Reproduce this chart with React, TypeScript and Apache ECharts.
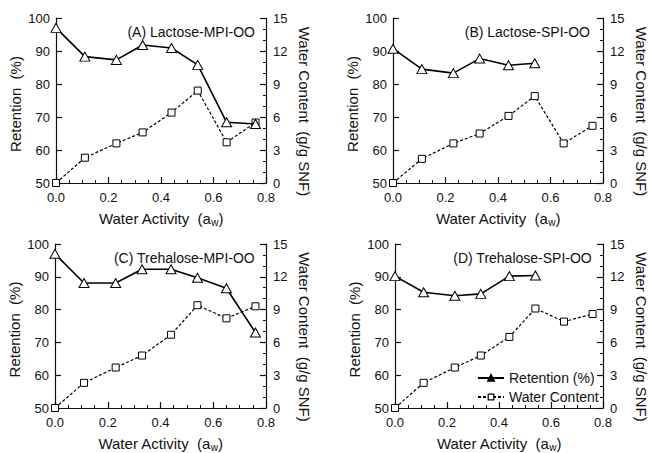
import React, { useEffect, useRef } from "react";
import * as echarts from "echarts";

const aw = [0, 0.11, 0.23, 0.33, 0.44, 0.54, 0.65, 0.76];

const retentionA = [97, 88.3, 87.3, 91.8, 90.9, 85.8, 68.4, 67.9];
const waterA = [0, 2.3, 3.6, 4.6, 6.4, 8.4, 3.7, 5.5];

const retentionB = [90.7, 84.5, 83.3, 87.7, 85.7, 86.3];
const waterB = [0, 2.2, 3.6, 4.5, 6.1, 7.9, 3.6, 5.2];

const retentionC = [97, 88.1, 88.1, 92.3, 92.3, 89.7, 86.5, 73];
const waterC = [0, 2.3, 3.7, 4.8, 6.7, 9.4, 8.2, 9.3];

const retentionD = [90.2, 85.3, 84.2, 84.8, 90.2, 90.4];
const waterD = [0, 2.3, 3.7, 4.8, 6.5, 9.1, 7.9, 8.6];

const panelTitles = [
  "(A) Lactose-MPI-OO",
  "(B) Lactose-SPI-OO",
  "(C) Trehalose-MPI-OO",
  "(D) Trehalose-SPI-OO",
];

const legendNames = ["Retention (%)", "Water Content"];

const retentionSets = [retentionA, retentionB, retentionC, retentionD];
const waterSets = [waterA, waterB, waterC, waterD];

const grids = [
  { left: 56, top: 18, width: 210, height: 165 },
  { left: 393, top: 18, width: 211, height: 165 },
  { left: 55, top: 244, width: 211, height: 165 },
  { left: 395, top: 244, width: 211, height: 165 },
];

const titlePos = [
  { right: 395, top: 25 },
  { right: 60, top: 25 },
  { right: 395, top: 251 },
  { right: 58, top: 251 },
];

const FONT = "'Liberation Sans', Arial, Helvetica, sans-serif";
const INK = "#111";

export default function App() {
  const ref = useRef<HTMLDivElement>(null);

  useEffect(() => {
    if (!ref.current) return;
    const chart = echarts.init(ref.current, undefined, { renderer: "svg" });

    const axisLine = { lineStyle: { color: INK, width: 1.2 } };
    const xAxes: any[] = [];
    const yAxes: any[] = [];
    const series: any[] = [];

    grids.forEach((_, i) => {
      xAxes.push({
        type: "value",
        gridIndex: i,
        min: 0,
        max: 0.8,
        interval: 0.2,
        name: "Water Activity  (a{sub|w})",
        nameLocation: "middle",
        nameGap: 26,
        nameTextStyle: {
          fontFamily: FONT,
          fontSize: 15,
          color: INK,
          rich: {
            sub: { fontFamily: FONT, fontSize: 10, color: INK, verticalAlign: "bottom", padding: [8, 0, 0, 0] },
          },
        },
        axisLine: { show: true, ...axisLine },
        axisTick: { show: true, inside: true, length: 6, lineStyle: { color: INK, width: 1.2 } },
        minorTick: { show: true, splitNumber: 4, length: 3, lineStyle: { color: INK, width: 1 } },
        splitLine: { show: false },
        axisLabel: {
          fontFamily: FONT,
          fontSize: 13,
          color: INK,
          margin: 8,
          formatter: (v: number) => v.toFixed(1),
        },
      });
      yAxes.push({
        type: "value",
        gridIndex: i,
        position: "left",
        min: 50,
        max: 100,
        interval: 10,
        name: "Retention  (%)",
        nameLocation: "middle",
        nameGap: 33,
        nameTextStyle: { fontFamily: FONT, fontSize: 15, color: INK, padding: [0, 7, 0, 0] },
        axisLine: { show: true, ...axisLine },
        axisTick: { show: true, inside: true, length: 6, lineStyle: { color: INK, width: 1.2 } },
        splitLine: { show: false },
        axisLabel: { fontFamily: FONT, fontSize: 13, color: INK, margin: 6 },
      });
      yAxes.push({
        type: "value",
        gridIndex: i,
        position: "right",
        min: 0,
        max: 15,
        interval: 3,
        name: "Water Content  (g/g SNF)",
        nameLocation: "middle",
        nameRotate: -90,
        nameGap: 31,
        nameTextStyle: { fontFamily: FONT, fontSize: 15, color: INK, padding: [0, 0, 0, 22] },
        axisLine: { show: true, ...axisLine },
        axisTick: { show: true, inside: true, length: 6, lineStyle: { color: INK, width: 1.2 } },
        minorTick: { show: true, splitNumber: 3, length: 3, lineStyle: { color: INK, width: 1 } },
        splitLine: { show: false },
        axisLabel: { fontFamily: FONT, fontSize: 13, color: INK, margin: 7 },
      });

      const ret = retentionSets[i];
      const wat = waterSets[i];
      series.push({
        type: "line",
        name: i === 3 ? legendNames[0] : "Retention " + i,
        xAxisIndex: i,
        yAxisIndex: 2 * i,
        data: ret.map((v, k) => [aw[k], v]),
        symbol: "triangle",
        symbolSize: [10, 9],
        z: 3,
        lineStyle: { color: "#000", width: 1.6, type: "solid" },
        itemStyle: { color: "#fff", borderColor: "#000", borderWidth: 1 },
      });
      series.push({
        type: "line",
        name: i === 3 ? legendNames[1] : "Water " + i,
        xAxisIndex: i,
        yAxisIndex: 2 * i + 1,
        data: wat.map((v, k) => [aw[k], v]),
        symbol: "rect",
        symbolSize: 7,
        z: 2,
        lineStyle: { color: "#000", width: 1.2, type: [3, 2] },
        itemStyle: { color: "#fff", borderColor: "#000", borderWidth: 1 },
      });
    });

    chart.setOption({
      animation: false,
      backgroundColor: "#fff",
      title: panelTitles.map((t, i) => ({
        text: t,
        right: titlePos[i].right,
        top: titlePos[i].top,
        padding: 0,
        textStyle: { fontFamily: FONT, fontSize: 14, fontWeight: "normal", color: INK },
      })),
      legend: {
        orient: "vertical",
        left: 477,
        top: 371,
        itemWidth: 26,
        itemHeight: 7,
        itemGap: 5,
        padding: 0,
        selectedMode: false,
        textStyle: { fontFamily: FONT, fontSize: 14, color: INK },
        data: [
          { name: legendNames[0], itemStyle: { color: "#000", borderColor: "#000" } },
          { name: legendNames[1], itemStyle: { color: "#fff", borderColor: "#000", borderWidth: 1.2 } },
        ],
      },
      grid: grids.map((g) => ({ ...g, containLabel: false })),
      xAxis: xAxes,
      yAxis: yAxes,
      series,
    });

    return () => chart.dispose();
  }, []);

  return (
    <div
      ref={ref}
      style={{ position: "absolute", left: 0, top: 0, width: 650, height: 453, background: "#fff" }}
    />
  );
}
